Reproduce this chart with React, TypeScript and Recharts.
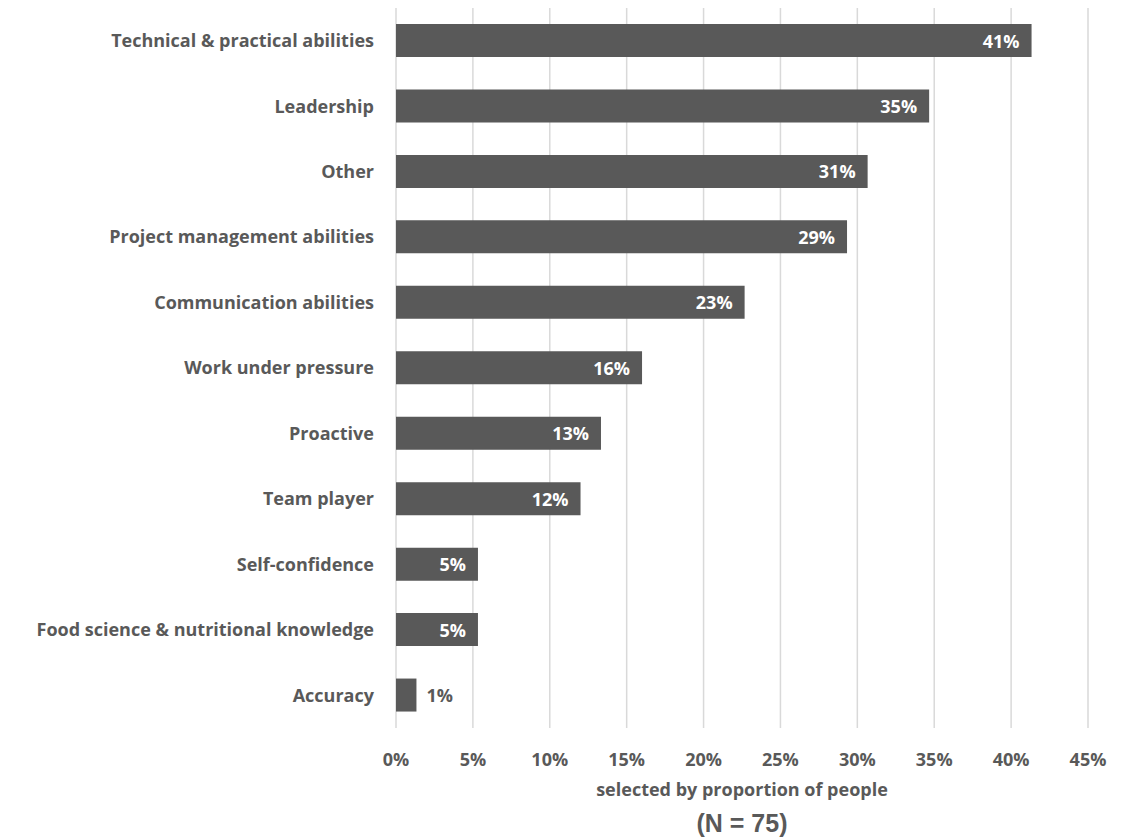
import React from 'react';
import { BarChart, Bar, XAxis, YAxis, CartesianGrid, LabelList } from 'recharts';

// skills, top to bottom
const skills = [
  'Technical & practical abilities',
  'Leadership',
  'Other',
  'Project management abilities',
  'Communication abilities',
  'Work under pressure',
  'Proactive',
  'Team player',
  'Self-confidence',
  'Food science & nutritional knowledge',
  'Accuracy',
];

// share of respondents (%), N = 75
const shares = [41.33, 34.67, 30.67, 29.33, 22.67, 16.0, 13.33, 12.0, 5.33, 5.33, 1.33];

const xTicks = [0, 5, 10, 15, 20, 25, 30, 35, 40, 45];

const grey = '#595959';
const font = '"Open Sans", sans-serif';

const data = skills.map((name, i) => ({ name, value: shares[i] }));

const BarValue = (props: any) => {
  const { x, y, width, height, value } = props;
  const txt = `${Math.round(value)}%`;
  const inside = value > 3;
  return (
    <text
      x={inside ? x + width - 12 : x + width + 10}
      y={y + height / 2}
      fill={inside ? '#ffffff' : grey}
      textAnchor={inside ? 'end' : 'start'}
      dominantBaseline="central"
      fontFamily={font}
      fontWeight={700}
      fontSize={18}
    >
      {txt}
    </text>
  );
};

const AxisTitle = (props: any) => {
  const { viewBox } = props;
  const cx = viewBox.x + viewBox.width / 2;
  return (
    <g>
      <text x={cx} y={viewBox.y + 61} textAnchor="middle" dominantBaseline="central"
        fill={grey} fontFamily={font} fontWeight={700} fontSize={18}>
        selected by proportion of people
      </text>
      <text x={cx} y={viewBox.y + 95} textAnchor="middle" dominantBaseline="central"
        fill={grey} fontFamily="Arial, 'Liberation Sans', sans-serif" fontWeight={700} fontSize={25}>
        (N = 75)
      </text>
    </g>
  );
};

const App: React.FC = () => (
  <BarChart
    width={1127}
    height={831}
    data={data}
    layout="vertical"
    margin={{ top: 0, right: 47, bottom: 0, left: 0 }}
    barCategoryGap="25%"
  >
    <CartesianGrid horizontal={false} stroke="#d9d9d9" strokeWidth={1.5} />
    <XAxis
      type="number"
      domain={[0, 45]}
      ticks={xTicks}
      tickFormatter={(v) => `${v}%`}
      axisLine={false}
      tickLine={false}
      tickMargin={19}
      height={111}
      interval={0}
      tick={{ fill: grey, fontFamily: font, fontWeight: 700, fontSize: 18 }}
      label={<AxisTitle />}
    />
    <YAxis
      type="category"
      dataKey="name"
      width={388}
      axisLine={false}
      tickLine={false}
      tickMargin={16}
      interval={0}
      tick={{ fill: grey, fontFamily: font, fontWeight: 700, fontSize: 18 }}
    />
    <Bar dataKey="value" fill={grey} barSize={33} isAnimationActive={false}>
      <LabelList dataKey="value" content={<BarValue />} />
    </Bar>
  </BarChart>
);

export default App;
